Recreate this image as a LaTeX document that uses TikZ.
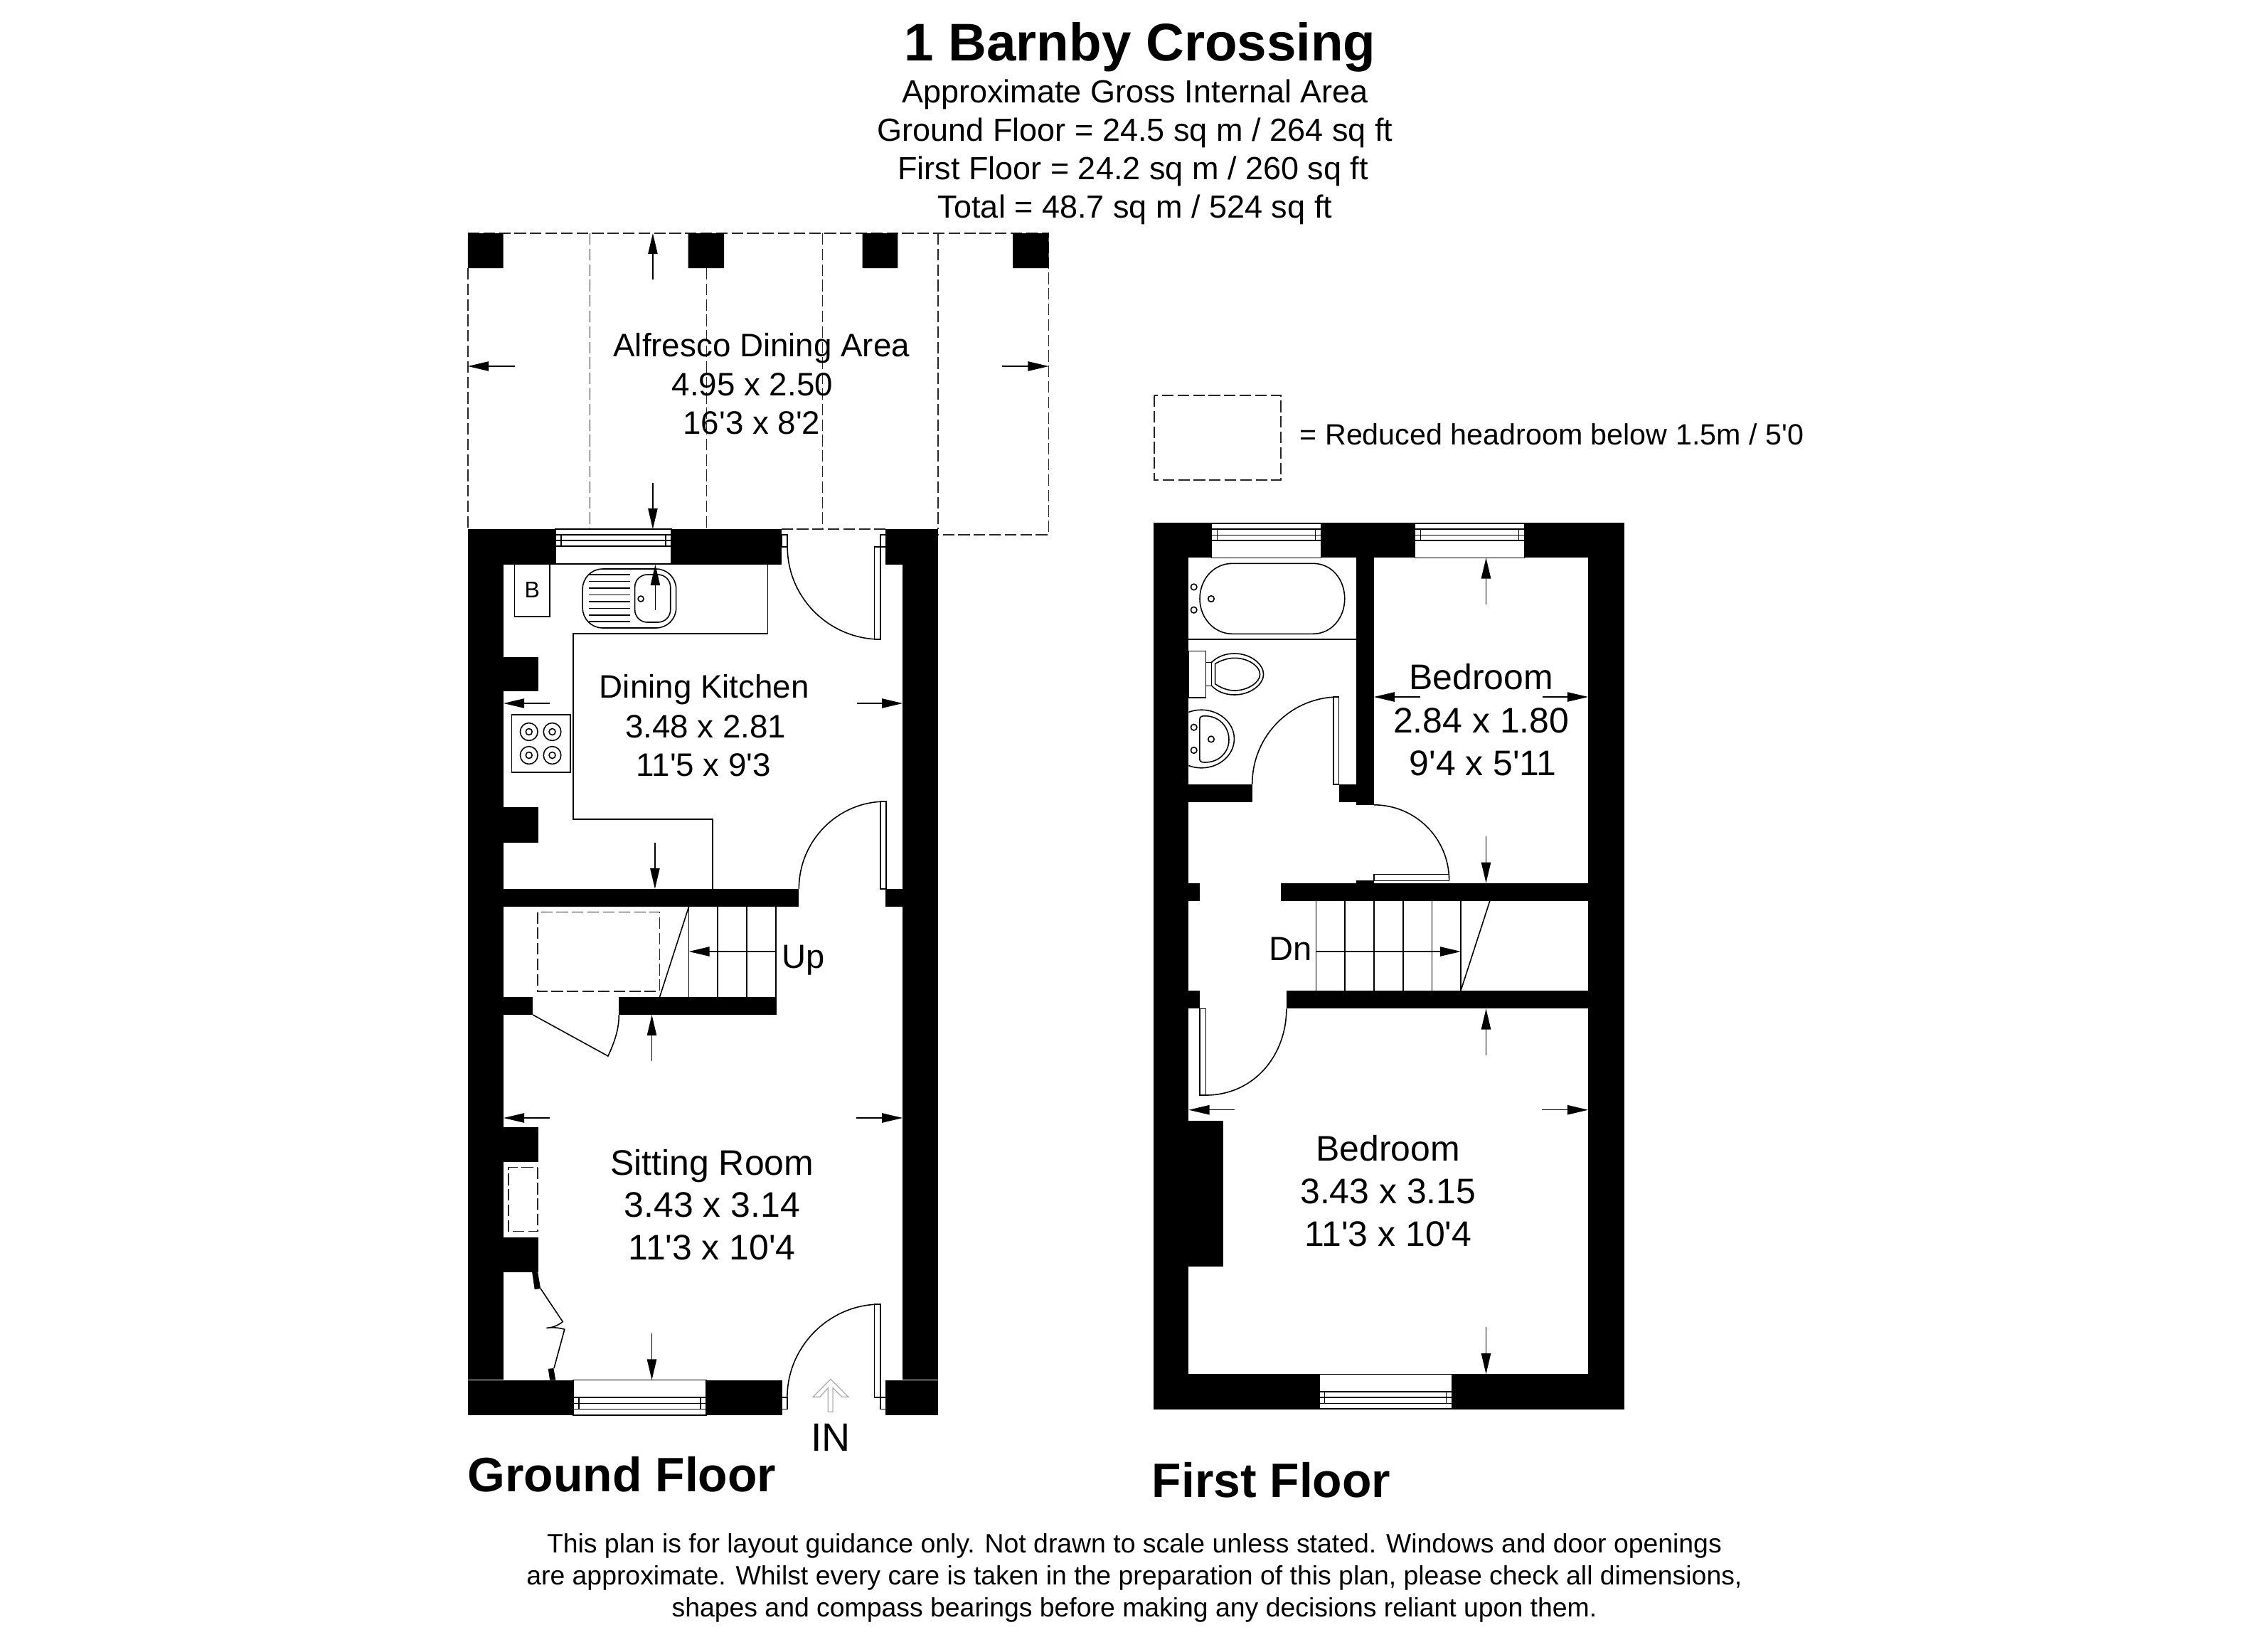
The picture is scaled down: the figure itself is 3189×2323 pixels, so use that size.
\documentclass[tikz,border=0pt]{standalone}
\usepackage{fontspec}
\setmainfont[Ligatures=TeXOff]{Liberation Sans}
\usetikzlibrary{arrows.meta}
\tikzset{
  wall/.style={fill=black,draw=none},
  thin line/.style={draw=black,line width=0.45pt},
  dash line/.style={draw=black!85,line width=0.45pt,dash pattern=on 4.6pt off 1.6pt},
  dim/.style={draw=black,line width=0.4pt,-{Triangle[length=8.3pt,width=3.8pt]}},
  txt/.style={inner sep=0pt,anchor=base},
  room big/.style={txt,font=\fontsize{14.2pt}{14.2pt}\selectfont},
  room small/.style={txt,font=\fontsize{13pt}{13pt}\selectfont},
  head/.style={txt,font=\fontsize{12.8pt}{12.8pt}\selectfont},
  floor name/.style={txt,anchor=base west,font=\fontsize{19.3pt}{19.3pt}\selectfont\bfseries},
  note/.style={txt,font=\fontsize{10.63pt}{10.63pt}\selectfont},
  ground plan/.style={x=0.009925cm,xshift=0.0494cm},
  first plan/.style={x=0.009925cm,xshift=0.1216cm},
}
\newcommand{\planwin}[7]{%
  \path[fill=white,thin line] (#1,#3) rectangle (#2,#7);
  \draw[thin line] (#1,#4)--(#2,#4) (#1,#5)--(#2,#5) (#1,#6)--(#2,#6);
  \pgfmathsetmacro{\ja}{#1+8}\pgfmathsetmacro{\jb}{#2-8}
  \draw[thin line] (\ja,#4)--(\ja,#6) (\jb,#4)--(\jb,#6);}
\begin{document}
\begin{tikzpicture}[x=0.01cm,y=-0.01cm]
\useasboundingbox[fill=white] (0,0) rectangle (3189,2323);
% ---------- titles
\node[txt,font=\fontsize{21.2pt}{21.2pt}\selectfont\bfseries] (title) at (1603,85) {1 Barnby Crossing};
\node[head] (h1) at (1596,144) {Approximate Gross Internal Area};
\node[head] (h2) at (1596,198) {Ground Floor = 24.5 sq m / 264 sq ft};
\node[head] (h3) at (1593,252) {First Floor = 24.2 sq m / 260 sq ft};
\node[head] (h4) at (1596,306.5) {Total = 48.7 sq m / 524 sq ft};
% ---------- legend
\draw[dash line] (1629,560) ++(-6,-4) rectangle (1801,675);
\node[txt,anchor=base west,font=\fontsize{11.73pt}{11.73pt}\selectfont] (legend) at (1827,625) {= Reduced headroom below 1.5m / 5'0};
% ---------- floor names and note
\node[floor name] (gf) at (657,2097) {Ground Floor};
\node[floor name] (ff) at (1619,2105.5) {First Floor};
\node[note] (n1) at (1595,2183) {This plan is for layout guidance only. Not drawn to scale unless stated. Windows and door openings};
\node[note] (n2) at (1595,2228) {are approximate. Whilst every care is taken in the preparation of this plan, please check all dimensions,};
\node[note] (n3) at (1595,2273) {shapes and compass bearings before making any decisions reliant upon them.};

\begin{scope}[ground plan]
% ---------- alfresco dashed
\draw[dash line] (658,328)--(1481,328)--(1481,752)--(1324,752);
\draw[dash line] (658,377)--(658,744);
\draw[dash line] (831,328)--(831,744) (996,377)--(996,744) (1160.5,328)--(1160.5,744) (1324,328)--(1324,744);
\draw[dash line] (1102,744)--(1250,744);
\fill[wall] (658,328) rectangle (708,377) (970,328) rectangle (1021,377) (1217,328) rectangle (1267,377) (1430,328) rectangle (1481,377);
% ---------- ground floor walls
\fill[wall] (658,744) rectangle (1102,794);
\fill[wall] (1250,744) rectangle (1324,794);
\fill[wall] (658,794) rectangle (708.5,1940);
\fill[wall] (1274,794) rectangle (1324,1940);
\fill[wall] (658,924) rectangle (758,972);
\fill[wall] (658,1135) rectangle (758,1185);
\fill[wall] (658,1250) rectangle (1127,1275);
\fill[wall] (1250,1250) rectangle (1324,1275);
\fill[wall] (658,1402) rectangle (750,1427);
\fill[wall] (872,1402) rectangle (1095,1427);
\fill[wall] (658,1585) rectangle (758,1634);
\fill[wall] (658,1740) rectangle (758,1789);
\fill[wall] (658,1940.5) rectangle (1103,1990);
\fill[wall] (1250,1940.5) rectangle (1324,1990);
\planwin{782}{946}{744}{752}{760}{768}{793}
\planwin{807}{995.5}{1940.5}{1965}{1973.5}{1981.5}{1990}
% ---------- kitchen fittings
\draw[thin line] (724,794)--(724,867)--(774,867)--(774,794);
\node[txt,font=\fontsize{9.1pt}{9.1pt}\selectfont] (boiler) at (749,840) {B};
\draw[thin line,rounded corners=8] (820.5,800) rectangle (953,883);
\draw[thin line,rounded corners=5] (894.5,808) rectangle (945,875);
\draw[thin line] (903,842) circle[radius=4];
\foreach \yy in {808,817.5,827,836.5,846,855.5,865,874}{\draw[thin line] (829,\yy)--(887.5,\yy);}
\draw[thin line] (1083,794)--(1083,891)--(807,891)--(807,1152)--(1004.5,1152)--(1004.5,1250);
\draw[thin line] (720,1005) rectangle (803,1086);
\foreach \xx in {744.5,777.5}\foreach \yy in {1029,1062}{
  \draw[thin line] (\xx,\yy) circle[radius=12.4];
  \draw[thin line] (\xx,\yy) circle[radius=4.5];}
% back door
\draw[thin line] (1102.5,752) rectangle (1110.7,769);
\draw[thin line] (1242.5,752) rectangle (1250,769);
\draw[thin line] (1234,769) rectangle (1242.5,899);
\draw[thin line] (1110.7,769) .. controls +(0,72) and +(-72,0) .. (1242.5,899);
% kitchen/hall door
\draw[thin line] (1242.3,1127) rectangle (1250.5,1250);
\draw[thin line] (1127,1250) .. controls +(0,-68) and +(-68,0) .. (1250,1127);
% stairs
\draw[thin line] (971,1275)--(971,1402) (1012,1275)--(1012,1402) (1053,1275)--(1053,1402) (1094.5,1275)--(1094.5,1402);
\draw[thin line] (971,1275)--(929.7,1402);
\draw[dash line] (757,1282.5) rectangle (929.7,1394);
\node[txt,font=\fontsize{13.4pt}{13.4pt}\selectfont] (up) at (1133,1361) {Up};
% understairs door
\draw[thin line] (750,1427)--(856.5,1485) .. controls (866,1465) and (872,1447) .. (872,1427);
% closet bifold
\fill[wall] (749,1789)--(757,1789)--(761,1812)--(752.5,1813)--cycle;
\fill[wall] (771.7,1924.8)--(779.4,1924)--(782.3,1940.5)--(774,1940.5)--cycle;
\draw[thin line] (761,1812)--(792.4,1858.6) .. controls (785,1864) and (778,1867) .. (769.3,1867.4) .. controls (778,1866) and (787,1867) .. (794.9,1869.3)--(780,1924);
% fireplace dashed
\draw[dash line] (757,1641.5) rectangle (715.4,1731.5);
% entry door
\draw[thin line] (1103,1965) rectangle (1110.4,1981.5);
\draw[thin line] (1242.3,1965) rectangle (1250,1981.5);
\draw[thin line] (1234,1834) rectangle (1242.3,1965);
\draw[thin line] (1110.4,1965) .. controls +(0,-72) and +(-72,0) .. (1242.3,1834);
\draw[draw=black!30,line width=0.4pt] (1172,1939.3)--(1197,1964.3)--(1188,1964.3)--(1175,1951.7)--(1175,1985.3)--(1168.3,1985.3)--(1168.3,1951.7)--(1156.7,1964.3)--(1147,1964.3)--cycle;
\node[txt,font=\fontsize{15.8pt}{15.8pt}\selectfont] (in) at (1172,2040) {IN};
% dimension arrows
\draw[dim] (920,393)--(920,328);
\draw[dim] (920,678.5)--(920,744);
\draw[dim] (725,515)--(658,515);
\draw[dim] (1415,515)--(1481,515);
\draw[dim] (923.5,858)--(923.5,794);
\draw[dim] (923,1184.5)--(923,1250);
\draw[dim] (774,989)--(708.5,989);
\draw[dim] (1209,989)--(1274,989);
\draw[dim] (1094.5,1338)--(971,1338);
\draw[dim] (918.6,1492)--(918.6,1427);
\draw[dim] (774,1572)--(708.5,1572);
\draw[dim] (1208.6,1572)--(1274,1572);
\draw[dim] (918.6,1875)--(918.6,1940.5);
% room labels
\node[room small] (a1) at (1074,501) {Alfresco Dining Area};
\node[room small] (a2) at (1061,556) {4.95 x 2.50};
\node[room small] (a3) at (1060,610) {16'3 x 8'2};
\node[room small] (k1) at (993,981) {Dining Kitchen};
\node[room small] (k2) at (995,1037) {3.48 x 2.81};
\node[room small] (k3) at (992,1091.5) {11'5 x 9'3};
\node[room big] (s1) at (1004,1652) {Sitting Room};
\node[room big] (s2) at (1004,1711.5) {3.43 x 3.14};
\node[room big] (s3) at (1004,1771.5) {11'3 x 10'4};
\end{scope}

\begin{scope}[first plan]
% ---------- first floor walls
\fill[wall] (1621.7,735) rectangle (2288.8,784.3);
\fill[wall] (1621.7,784) rectangle (1672,1932);
\fill[wall] (2238,784) rectangle (2288.8,1932);
\fill[wall] (1909,784) rectangle (1934.3,1132);
\fill[wall] (1884.7,1102.7) rectangle (1934.3,1128.3);
\fill[wall] (1621.7,1102.7) rectangle (1762,1128.3);
\fill[wall] (1909,1237.7) rectangle (1934.3,1243);
\fill[wall] (1802.3,1241.7) rectangle (2288.8,1267);
\fill[wall] (1621.7,1241.7) rectangle (1688,1267);
\fill[wall] (1810.5,1392.7) rectangle (2288.8,1418.3);
\fill[wall] (1621.7,1392.7) rectangle (1688,1418.3);
\fill[wall] (1621.7,1576) rectangle (1721.4,1780.7);
\fill[wall] (1621.7,1932.3) rectangle (2288.8,1981.7);
\planwin{1704.5}{1859.6}{736}{744}{752.3}{760}{784.3}
\planwin{1992.6}{2147.7}{736}{744}{752.3}{760}{784.3}
\planwin{1856.7}{2045}{1932.3}{1956.7}{1965}{1973.3}{1981}
% ---------- bathroom
\draw[thin line] (1672,899)--(1909,899);
\draw[thin line] (1734,792.3)--(1848,792.3) .. controls (1875,792.3) and (1893,815) .. (1893,842) .. controls (1893,868) and (1875,891.3) .. (1848,891.3)--(1734,891.3) .. controls (1707,891.3) and (1687.7,868) .. (1687.7,842) .. controls (1687.7,815) and (1707,792.3) .. (1734,792.3)--cycle;
\foreach \xx/\yy in {1679.3/825.4,1679.3/857.7,1703.8/842,1679.3/1022.7,1679.3/1055,1703.8/1039.4}{\draw[thin line] (\xx,\yy) circle[radius=4.3];}
\draw[thin line] (1672,915.3) rectangle (1696.3,980.7);
\draw[thin line] (1696.3,931.3) rectangle (1704.5,964.3);
\draw[thin line] (1704.5,931.3) .. controls (1713,923) and (1724,919) .. (1737,919) .. controls (1760,919) and (1778,934) .. (1778,948.3) .. controls (1778,962) and (1760,977) .. (1737,977) .. controls (1724,977) and (1713,973) .. (1704.5,964.3);
\draw[thin line] (1709.5,933.3) .. controls (1717,929) and (1727,925.3) .. (1737,925.3) .. controls (1755,925.3) and (1773,936) .. (1773,948.3) .. controls (1773,960) and (1755,971) .. (1737,971) .. controls (1727,971) and (1717,967) .. (1709.5,961.7)--cycle;
\begin{scope}
\clip (1672,990) rectangle (1760,1090);
\draw[thin line] (1690,1039) ellipse[x radius=46.5,y radius=40.8];
\end{scope}
\draw[thin line] (1687.5,1012) .. controls (1687.5,1008) and (1690,1006.7) .. (1695,1006.7) .. controls (1715,1006.7) and (1729,1022) .. (1729,1040) .. controls (1729,1058) and (1715,1072) .. (1695,1072) .. controls (1690,1072) and (1687.5,1071) .. (1687.5,1067)--cycle;
% first floor doors
\draw[thin line] (1877,980) rectangle (1884.7,1103);
\draw[thin line] (1762,1102.7) .. controls +(0,-68) and +(-68,0) .. (1884.7,980);
\draw[thin line] (1934.3,1229.4) rectangle (2041,1238.3);
\draw[thin line] (1934.3,1131.8) .. controls +(59,0) and +(0,-59) .. (2041,1238);
\draw[thin line] (1687.7,1418.3) rectangle (1696.3,1540);
\draw[thin line] (1810.5,1418.3) .. controls +(0,67) and +(67,0) .. (1696.3,1540);
% first floor stairs
\draw[thin line] (1852.4,1267)--(1852.4,1392.7) (1893.4,1267)--(1893.4,1392.7) (1934.3,1267)--(1934.3,1392.7) (1975.7,1267)--(1975.7,1392.7) (2016.7,1267)--(2016.7,1392.7) (2057.6,1267)--(2057.6,1392.7);
\draw[thin line] (2098.6,1267)--(2057.6,1392.7);
\node[txt,font=\fontsize{13.4pt}{13.4pt}\selectfont] (dn) at (1816,1350.5) {Dn};
% dimension arrows
\draw[dim] (2093.3,850)--(2093.3,784.3);
\draw[dim] (2000,980)--(1934.3,980);
\draw[dim] (2173,980)--(2238,980);
\draw[dim] (2093.3,1176)--(2093.3,1241.7);
\draw[dim] (1852.4,1338)--(2057.6,1338);
\draw[dim] (2093.3,1484)--(2093.3,1418.3);
\draw[dim] (1737.3,1560.7)--(1672,1560.7);
\draw[dim] (2172,1560.7)--(2238,1560.7);
\draw[dim] (2093.3,1866)--(2093.3,1932.3);
% room labels
\node[room big] (b1) at (2086.5,969.5) {Bedroom};
\node[room big] (b2) at (2086.5,1030.5) {2.84 x 1.80};
\node[room big] (b3) at (2089,1090.5) {9'4 x 5'11};
\node[room big] (c1) at (1954.5,1632.5) {Bedroom};
\node[room big] (c2) at (1954.5,1692) {3.43 x 3.15};
\node[room big] (c3) at (1954.5,1752.5) {11'3 x 10'4};
\end{scope}
\end{tikzpicture}
\end{document}
